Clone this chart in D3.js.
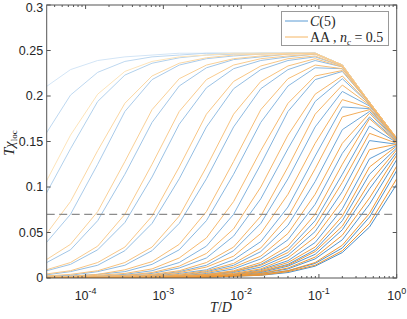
<!DOCTYPE html>
<html>
<head>
<meta charset="utf-8">
<script src="https://cdn.jsdelivr.net/npm/d3@7"></script>
<style>
  body { margin: 0; background: #fff; }
  svg { display: block; }
</style>
</head>
<body>
<svg id="chart" width="407" height="319"></svg>
<script>
// temperature grid T/D (ratio sqrt(5) between points)
const tValues = [2.862e-5, 6.4e-5, 1.431e-4, 3.2e-4, 7.155e-4, 1.6e-3, 3.578e-3, 8e-3, 1.789e-2, 0.04, 0.08944, 0.2, 0.4472, 1];

// T*chi_loc, C(5) curves (top -> bottom)
const chiC5 = [
  [0.208,0.229,0.239,0.243,0.245,0.247,0.247,0.247,0.247,0.247,0.247,0.234,0.193,0.1535],
  [0.154,0.201,0.226,0.238,0.243,0.245,0.247,0.247,0.247,0.247,0.247,0.234,0.193,0.1535],
  [0.087,0.142,0.194,0.223,0.236,0.242,0.245,0.246,0.247,0.247,0.247,0.234,0.193,0.1535],
  [0.035,0.070,0.125,0.183,0.218,0.234,0.241,0.244,0.246,0.247,0.247,0.234,0.193,0.1535],
  [0.015,0.031,0.063,0.114,0.171,0.211,0.231,0.240,0.243,0.246,0.247,0.234,0.193,0.1535],
  [0.007,0.015,0.031,0.061,0.111,0.169,0.209,0.230,0.239,0.243,0.246,0.234,0.193,0.1535],
  [0.003,0.007,0.014,0.030,0.060,0.109,0.166,0.208,0.229,0.239,0.243,0.233,0.193,0.1535],
  [0.002,0.003,0.007,0.014,0.030,0.060,0.109,0.166,0.208,0.229,0.239,0.232,0.193,0.1535],
  [0.001,0.002,0.004,0.007,0.015,0.031,0.063,0.114,0.171,0.211,0.231,0.230,0.193,0.1535],
  [0.000,0.001,0.002,0.004,0.008,0.017,0.035,0.070,0.125,0.183,0.218,0.227,0.192,0.1535],
  [0.000,0.001,0.001,0.003,0.005,0.011,0.022,0.046,0.087,0.142,0.194,0.219,0.191,0.1535],
  [0.000,0.000,0.001,0.002,0.003,0.007,0.014,0.030,0.060,0.109,0.166,0.205,0.189,0.153],
  [0.000,0.000,0.001,0.001,0.002,0.005,0.009,0.020,0.040,0.078,0.134,0.188,0.186,0.152],
  [0.000,0.000,0.000,0.001,0.002,0.003,0.007,0.014,0.029,0.058,0.106,0.163,0.183,0.151],
  [0.000,0.000,0.000,0.001,0.001,0.002,0.005,0.010,0.021,0.042,0.081,0.137,0.177,0.150],
  [0.000,0.000,0.000,0.000,0.001,0.002,0.004,0.007,0.015,0.031,0.063,0.114,0.167,0.149],
  [0.000,0.000,0.000,0.000,0.001,0.001,0.003,0.006,0.012,0.025,0.051,0.095,0.151,0.147],
  [0.000,0.000,0.000,0.000,0.000,0.001,0.002,0.004,0.009,0.019,0.039,0.076,0.131,0.146],
  [0.000,0.000,0.000,0.000,0.000,0.001,0.002,0.004,0.007,0.015,0.031,0.063,0.114,0.143],
  [0.000,0.000,0.000,0.000,0.000,0.001,0.002,0.003,0.006,0.013,0.026,0.053,0.098,0.138],
  [0.000,0.000,0.000,0.000,0.000,0.000,0.001,0.002,0.005,0.010,0.021,0.042,0.081,0.130],
  [0.000,0.000,0.000,0.000,0.000,0.000,0.001,0.002,0.004,0.008,0.016,0.033,0.067,0.118],
  [0.000,0.000,0.000,0.000,0.000,0.000,0.001,0.002,0.003,0.006,0.013,0.028,0.056,0.103]
];

// T*chi_loc, AA n_c = 0.5 curves (top -> bottom)
const chiAA = [
  [0.100,0.157,0.202,0.227,0.238,0.243,0.245,0.247,0.247,0.247,0.247,0.234,0.193,0.1535],
  [0.044,0.084,0.140,0.192,0.222,0.236,0.242,0.245,0.246,0.247,0.247,0.234,0.193,0.1535],
  [0.018,0.037,0.073,0.128,0.185,0.219,0.234,0.241,0.244,0.246,0.247,0.234,0.193,0.1535],
  [0.008,0.017,0.035,0.070,0.125,0.183,0.218,0.234,0.241,0.244,0.246,0.234,0.193,0.1535],
  [0.004,0.008,0.017,0.034,0.068,0.122,0.180,0.216,0.233,0.241,0.244,0.233,0.193,0.1535],
  [0.002,0.004,0.008,0.017,0.034,0.068,0.122,0.180,0.216,0.233,0.241,0.232,0.193,0.1535],
  [0.001,0.002,0.004,0.009,0.018,0.037,0.073,0.128,0.185,0.219,0.234,0.230,0.193,0.1535],
  [0.001,0.001,0.003,0.005,0.010,0.022,0.044,0.084,0.140,0.192,0.222,0.228,0.192,0.1535],
  [0.000,0.001,0.002,0.003,0.006,0.013,0.027,0.054,0.100,0.157,0.202,0.222,0.191,0.1535],
  [0.000,0.000,0.001,0.002,0.004,0.008,0.017,0.034,0.068,0.122,0.180,0.212,0.190,0.1535],
  [0.000,0.000,0.001,0.001,0.003,0.006,0.012,0.024,0.049,0.092,0.148,0.196,0.187,0.153],
  [0.000,0.000,0.000,0.001,0.002,0.004,0.008,0.016,0.033,0.067,0.120,0.177,0.185,0.152],
  [0.000,0.000,0.000,0.001,0.001,0.003,0.006,0.012,0.024,0.049,0.092,0.148,0.181,0.150],
  [0.000,0.000,0.000,0.000,0.001,0.002,0.004,0.008,0.017,0.035,0.070,0.125,0.175,0.149],
  [0.000,0.000,0.000,0.000,0.001,0.002,0.003,0.007,0.014,0.028,0.057,0.105,0.159,0.148],
  [0.000,0.000,0.000,0.000,0.001,0.001,0.003,0.005,0.010,0.022,0.045,0.085,0.141,0.147],
  [0.000,0.000,0.000,0.000,0.000,0.001,0.002,0.004,0.008,0.017,0.034,0.068,0.122,0.145],
  [0.000,0.000,0.000,0.000,0.000,0.001,0.002,0.003,0.007,0.014,0.029,0.057,0.105,0.141],
  [0.000,0.000,0.000,0.000,0.000,0.000,0.001,0.003,0.005,0.011,0.023,0.047,0.088,0.135],
  [0.000,0.000,0.000,0.000,0.000,0.000,0.001,0.002,0.004,0.008,0.017,0.036,0.071,0.123],
  [0.000,0.000,0.000,0.000,0.000,0.000,0.001,0.002,0.003,0.007,0.014,0.030,0.060,0.109]
];

const refLevel = 0.07;
const yTicks = [0, 0.05, 0.1, 0.15, 0.2, 0.25, 0.3];
const xDecades = [-4, -3, -2, -1, 0];

const svg = d3.select('#chart');
const width = 407, height = 319;
const margin = { top: 5, right: 10.3, bottom: 41, left: 46.7 };
const x0 = margin.left, x1 = width - margin.right;
const y0 = height - margin.bottom, y1 = margin.top;

const x = d3.scaleLog().domain([Math.pow(10, -4.5), 1]).range([x0, x1]);
const y = d3.scaleLinear().domain([0, 0.3]).range([y0, y1]);

// lighter for the upper curves, stronger for the lower ones
const blueRamp = d3.interpolateRgb('#d3e5f6', '#4a90cd');
const orangeRamp = d3.interpolateRgb('#fde4ba', '#ef9530');
const blueCol = i => blueRamp(Math.pow(i / (chiC5.length - 1), 0.6));
const orangeCol = i => orangeRamp(Math.pow(i / (chiAA.length - 1), 0.6));

svg.append('defs').append('clipPath').attr('id', 'plotclip')
  .append('rect').attr('x', x0).attr('y', y1).attr('width', x1 - x0).attr('height', y0 - y1);

const line = d3.line()
  .x((d, i) => x(tValues[i]))
  .y(d => y(d));

const plot = svg.append('g').attr('clip-path', 'url(#plotclip)');

// C(5) lines
plot.selectAll('path.c5').data(chiC5).join('path')
  .attr('class', 'c5')
  .attr('d', line)
  .attr('fill', 'none')
  .attr('stroke', (d, i) => blueCol(i))
  .attr('stroke-width', 1);

// AA lines
plot.selectAll('path.aa').data(chiAA).join('path')
  .attr('class', 'aa')
  .attr('d', line)
  .attr('fill', 'none')
  .attr('stroke', (d, i) => orangeCol(i))
  .attr('stroke-width', 1);

// dashed reference line
plot.append('line')
  .attr('x1', x0).attr('x2', x1)
  .attr('y1', y(refLevel)).attr('y2', y(refLevel))
  .attr('stroke', '#8c8c8c')
  .attr('stroke-width', 1.3)
  .attr('stroke-dasharray', '8,4.5');

// axes box + ticks (inward, all sides)
const axisCol = '#555';
const tickLen = 4;
const axes = svg.append('g');

axes.append('rect')
  .attr('x', x0).attr('y', y1)
  .attr('width', x1 - x0).attr('height', y0 - y1)
  .attr('fill', 'none').attr('stroke', axisCol).attr('stroke-width', 1);

yTicks.forEach(v => {
  const yy = y(v);
  axes.append('line').attr('x1', x0).attr('x2', x0 + tickLen).attr('y1', yy).attr('y2', yy).attr('stroke', axisCol);
  axes.append('line').attr('x1', x1).attr('x2', x1 - tickLen).attr('y1', yy).attr('y2', yy).attr('stroke', axisCol);
  axes.append('text')
    .attr('x', x0 - 3.5).attr('y', Math.max(yy + 4.4, 11.5))
    .attr('text-anchor', 'end')
    .attr('font-family', 'Liberation Sans, Arial, sans-serif')
    .attr('font-size', 12.5)
    .attr('fill', '#262626')
    .text(v === 0 ? '0' : d3.format('~g')(v));
});

// x ticks: major at decades, minor 2..9
const xMinor = [];
for (let e = -5; e < 0; e++) {
  for (let m = 2; m <= 9; m++) {
    const v = m * Math.pow(10, e);
    if (v > x.domain()[0] && v < 1) xMinor.push(v);
  }
}
xMinor.forEach(v => {
  const xx = x(v);
  axes.append('line').attr('x1', xx).attr('x2', xx).attr('y1', y0).attr('y2', y0 - 2).attr('stroke', axisCol);
  axes.append('line').attr('x1', xx).attr('x2', xx).attr('y1', y1).attr('y2', y1 + 2).attr('stroke', axisCol);
});
xDecades.forEach(e => {
  const xx = x(Math.pow(10, e));
  axes.append('line').attr('x1', xx).attr('x2', xx).attr('y1', y0).attr('y2', y0 - tickLen).attr('stroke', axisCol);
  axes.append('line').attr('x1', xx).attr('x2', xx).attr('y1', y1).attr('y2', y1 + tickLen).attr('stroke', axisCol);
  const t = axes.append('text')
    .attr('x', xx).attr('y', 300)
    .attr('text-anchor', 'middle')
    .attr('font-family', 'Liberation Sans, Arial, sans-serif')
    .attr('font-size', 12.5)
    .attr('fill', '#262626');
  t.append('tspan').text('10');
  t.append('tspan').attr('dy', -6).attr('font-size', 9).text(String(e));
});

// axis labels
const xl = svg.append('text')
  .attr('x', 221).attr('y', 312)
  .attr('text-anchor', 'middle')
  .attr('font-family', 'Liberation Serif, Times New Roman, serif')
  .attr('font-size', 14)
  .attr('font-style', 'italic')
  .attr('fill', '#262626');
xl.append('tspan').text('T');
xl.append('tspan').attr('font-style', 'normal').text('/');
xl.append('tspan').text('D');

const yl = svg.append('text')
  .attr('transform', 'translate(14,143) rotate(-90)')
  .attr('text-anchor', 'middle')
  .attr('font-family', 'Liberation Serif, Times New Roman, serif')
  .attr('font-size', 14.5)
  .attr('fill', '#262626');
yl.append('tspan').attr('font-style', 'italic').text('T');
yl.append('tspan').attr('font-style', 'italic').text('χ');
yl.append('tspan').attr('dy', 3).attr('font-size', 9).text('loc');

// legend
const lg = svg.append('g');
lg.append('rect')
  .attr('x', 281.5).attr('y', 11.5).attr('width', 107).attr('height', 34)
  .attr('fill', '#fff').attr('stroke', '#999').attr('stroke-width', 1);
const legendRows = [
  { col: '#5a9bd4', y: 21 },
  { col: '#f5b665', y: 37 }
];
legendRows.forEach(r => {
  lg.append('line').attr('x1', 285).attr('x2', 308).attr('y1', r.y).attr('y2', r.y)
    .attr('stroke', r.col).attr('stroke-width', 1);
});
const t1 = lg.append('text').attr('x', 310).attr('y', 25.5)
  .attr('font-family', 'Liberation Serif, Times New Roman, serif').attr('font-size', 14).attr('fill', '#262626');
t1.append('tspan').attr('font-style', 'italic').text('C');
t1.append('tspan').text('(5)');
const t2 = lg.append('text').attr('x', 310).attr('y', 41.5)
  .attr('font-family', 'Liberation Serif, Times New Roman, serif').attr('font-size', 14).attr('fill', '#262626');
t2.append('tspan').text('AA , ');
t2.append('tspan').attr('font-style', 'italic').text('n');
t2.append('tspan').attr('dy', 3).attr('font-size', 9).attr('font-style', 'italic').text('c');
t2.append('tspan').attr('dy', -3).text(' = 0.5');
</script>
</body>
</html>
